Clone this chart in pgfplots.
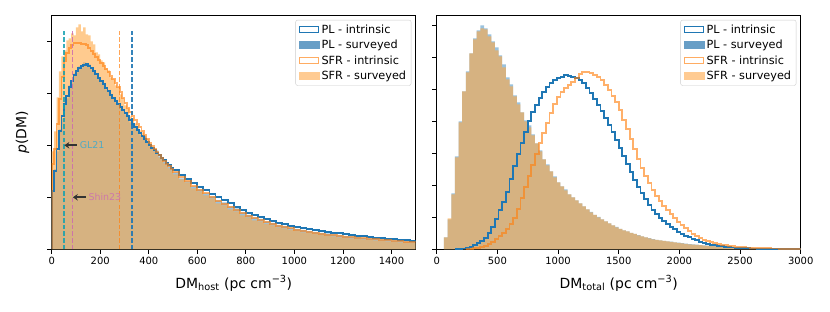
\documentclass[border=0pt]{standalone}
\usepackage{pgfplots}
\pgfplotsset{compat=1.18}
\usepackage{fontspec}
\setmainfont{DejaVu Sans}
\usetikzlibrary{arrows.meta}
\definecolor{tabblue}{HTML}{1F77B4}
\definecolor{taborange}{HTML}{FF7F0E}
\definecolor{fillorange}{RGB}{255,168,68}
\definecolor{lineorange}{RGB}{255,172,98}
\definecolor{legblue}{RGB}{104,158,198}
\definecolor{legorange}{RGB}{255,203,146}
\definecolor{tabcyan}{HTML}{17BECF}
\definecolor{tabpink}{HTML}{E377C2}
\definecolor{gltext}{RGB}{80,170,195}
\definecolor{shintext}{RGB}{205,120,170}
\pgfplotsset{
  histax/.style={
    width=364bp, height=234.3bp, scale only axis,
    ymin=0, ymax=234.3,
    tick align=outside, major tick length=4.5bp,
    xtick pos=left, ytick pos=left,
    yticklabels={},
    axis line style={line width=0.8bp},
    every tick/.style={black, line width=0.8bp},
    tick label style={font=\fontsize{10}{11}\selectfont},
    /pgf/number format/assume math mode=true,
    /pgf/number format/1000 sep={},
    x label style={at={(axis description cs:0.5,-0.145)},anchor=center,font=\fontsize{14}{16}\selectfont},
    legend style={at={(0.988,0.979)},anchor=north east, draw=black!20, rounded corners=2bp,
      font=\fontsize{11.3}{13}\selectfont, row sep=1.4bp, inner xsep=3bp, inner ysep=2.5bp, cells={anchor=west}},
  },
  legpli/.style={legend image code/.code={\draw[sharp corners, tabblue, line width=1.3bp, fill=white] (0.6bp,-2.8bp) rectangle (19.9bp,2.8bp);}},
  legpls/.style={legend image code/.code={\fill[sharp corners, legblue] (0bp,-3.4bp) rectangle (20.5bp,3.4bp);}},
  legsfri/.style={legend image code/.code={\draw[sharp corners, lineorange, line width=1.3bp, fill=white] (0.6bp,-2.8bp) rectangle (19.9bp,2.8bp);}},
  legsfrs/.style={legend image code/.code={\fill[sharp corners, legorange] (0bp,-3.4bp) rectangle (20.5bp,3.4bp);}},
  pli/.style={const plot mark left, no marks, tabblue, line width=1.8bp},
  sfri/.style={const plot mark left, no marks, taborange, draw opacity=0.62, line width=1.8bp},
  pls/.style={const plot mark left, no marks, draw=none, fill=tabblue, fill opacity=0.45},
  sfrs/.style={const plot mark left, no marks, draw=none, fill=fillorange, fill opacity=0.6},
  vline/.style={dash pattern=on 4.5bp off 2.2bp, line width=1.6bp, forget plot},
}
\begin{document}
\begin{tikzpicture}
\path[use as bounding box] (-51.7bp,-62.7bp) rectangle (778.3bp,249.3bp);
\begin{axis}[histax, xmin=0, xmax=1500, xtick={0,200,...,1400},
  ytick={0,52,104,156,208},
  xlabel={DM\textsubscript{host} (pc cm\textsuperscript{−3})},
  ylabel={\textit{p}(DM)},
  y label style={at={(axis description cs:-0.08,0.5)},anchor=center,font=\fontsize{14}{16}\selectfont}]
\addlegendimage{legpli}
\addlegendentry{PL - intrinsic}
\addlegendimage{legpls}
\addlegendentry{PL - surveyed}
\addlegendimage{legsfri}
\addlegendentry{SFR - intrinsic}
\addlegendimage{legsfrs}
\addlegendentry{SFR - surveyed}
% PL surveyed
\addplot[pls, forget plot] table {
0 58
10 80
20 98
30 120
40 131
50 147
60 151
70 164
80 167
90 176
100 177
110 183
120 182
130 187
140 184
150 185
160 180
170 179
180 174
190 172
200 167
210 166
220 160
230 159
240 153
250 152
260 147
270 146
280 141
290 140
300 135
310 134
320 127
330 126
340 121
350 120
360 115
370 114
380 113
390 108
400 103
410 102
420 100
430 99
440 93
450 92
460 88
470 87
480 83
490 82
500 77
525 71
550 68
575 63
600 60
625 56
650 53
675 49
700 47
725 43
750 41
775 37
800 34.5
825 32
850 30.5
875 28
900 26.5
925 24.5
950 23.5
975 21.5
1000 20.5
1025 19.5
1050 18.5
1075 17.5
1100 16.5
1125 16
1150 15
1175 14.5
1200 13.5
1225 13
1250 12.5
1275 11.5
1300 11
1325 10.5
1350 10
1375 9.5
1400 9
1425 8.5
1450 8
1475 7.5
1500 7.5
} \closedcycle;
% SFR surveyed
\addplot[sfrs, forget plot] table {
0 98
10 118
20 152
30 178
40 193
50 199
60 209
70 211
80 216
90 214
100 222
110 225
120 218
130 222
140 215
150 214
160 208
170 205
180 197
190 195
200 189
210 187
220 181
230 179
240 172
250 170
260 164
270 162
280 155
290 151
300 144
310 141
320 133
330 131
340 126
350 124
360 119
370 117
380 111
390 110
400 104
410 102
420 98
430 96
440 92
450 90
460 86
470 84
480 81
490 79
500 75
525 70
550 67
575 61
600 58
625 54
650 51
675 46
700 44
725 40
750 38
775 34
800 32
825 29
850 28
875 25.5
900 24
925 22
950 21
975 19.5
1000 18.5
1025 17
1050 16.5
1075 15.5
1100 14.5
1125 13.5
1150 13
1175 12
1200 11.5
1225 11
1250 10.5
1275 10
1300 9.5
1325 9
1350 8.5
1375 8
1400 7.5
1425 7
1450 7
1475 6.5
1500 6.5
} \closedcycle;
% PL intrinsic
\addplot[pli, forget plot] table {
0 0
0 58
10 78
20 100
30 118
40 133
50 145
60 153
70 162
80 168
90 174
100 178
110 181
120 183
130 184
140 185
150 183
160 181
170 178
180 175
190 171
200 168
210 165
220 161
230 158
240 154
250 151
260 148
270 145
280 142
290 139
300 136
310 133
320 129
330 125
340 122
350 119
360 116
370 113
380 110
390 107
400 104
410 101
420 99
430 96
440 94
450 91
460 89
470 86
480 84
490 81
500 79
525 74
550 70
575 66
600 62
625 59
650 55
675 52
700 49
725 46
750 42
775 39
800 36
825 34
850 32
875 30
900 28
925 26.5
950 25
975 23.5
1000 22
1025 21
1050 20
1075 19
1100 18
1125 17.5
1150 16.5
1175 16
1200 15
1225 14.5
1250 13.5
1275 13
1300 12
1325 11.5
1350 11
1375 10.5
1400 10
1425 9.5
1450 9
1475 8.5
1500 8
1525 8
};
% SFR intrinsic
\addplot[sfri, forget plot] table {
0 0
0 85
10 100
20 125
30 150
40 172
50 188
60 196
70 201
80 204
90 206
100 206
110 206
120 205
130 205
140 204
150 201
160 198
170 195
180 192
190 189
200 186
210 183
220 180
230 177
240 173
250 170
260 166
270 162
280 157
290 151
300 146
310 141
320 137
330 133
340 129
350 125
360 122
370 118
380 114
390 110
400 106
410 103
420 100
430 97
440 94
450 91
460 88
470 85
480 83
490 80
500 77
525 72
550 68
575 63
600 59
625 56
650 52
675 48
700 45
725 42
750 39
775 36
800 33
825 31
850 29
875 27
900 25
925 23.5
950 22
975 21
1000 19.5
1025 18.5
1050 17.5
1075 16.5
1100 15.5
1125 14.5
1150 14
1175 13
1200 12.5
1225 12
1250 11.5
1275 11
1300 10.5
1325 10
1350 9.5
1375 9
1400 8.5
1425 8
1450 7.5
1475 7
1500 7
1525 7
};
% vertical reference lines
\addplot[vline, tabcyan!85!black, draw opacity=0.85] coordinates {(50,0) (50,218)};
\addplot[vline, tabpink!90!black, draw opacity=0.85] coordinates {(85,0) (85,218)};
\addplot[vline, taborange, draw opacity=0.7] coordinates {(279,0) (279,218)};
\addplot[vline, tabblue, draw opacity=0.9] coordinates {(332,0) (332,218)};
\draw[-{Stealth[length=5bp,width=6.5bp]}, black!80, line width=2.2bp] (axis cs:104,104) -- (axis cs:52,104);
\node[anchor=west, text=gltext, font=\fontsize{9.5}{10}\selectfont, inner sep=1bp] at (axis cs:111,104) {GL21};
\draw[-{Stealth[length=5bp,width=6.5bp]}, black!80, line width=2.2bp] (axis cs:140,52) -- (axis cs:87,52);
\node[anchor=west, text=shintext, font=\fontsize{9.5}{10}\selectfont, inner sep=1bp] at (axis cs:147,52) {Shin23};
\end{axis}

\begin{axis}[histax, at={(385bp,0)}, xmin=0, xmax=3000, xtick={0,500,...,3000},
  ytick={0,32,...,224},
  xlabel={DM\textsubscript{total} (pc cm\textsuperscript{−3})}]
\addlegendimage{legpli}
\addlegendentry{PL - intrinsic}
\addlegendimage{legpls}
\addlegendentry{PL - surveyed}
\addlegendimage{legsfri}
\addlegendentry{SFR - intrinsic}
\addlegendimage{legsfrs}
\addlegendentry{SFR - surveyed}
% PL surveyed
\addplot[pls, forget plot] table {
60 12
90 30
120 56
150 93
180 128
210 158
240 178
270 196
300 211
330 219
360 224
390 221
420 215
450 208
480 202
510 194
540 185
570 172
600 165
630 154
660 147
690 137
720 129
750 124
780 115
810 106
840 99
870 90
900 85
930 78
960 73
990 67
1020 63
1050 60
1080 55
1110 52
1140 49
1170 46
1200 43
1230 40
1260 37.5
1290 34.5
1320 32.5
1350 30
1380 28
1410 26
1440 24
1470 22.5
1500 20.5
1530 19
1560 18
1590 16.5
1620 15.5
1650 14.2
1680 13
1710 12
1740 11.2
1770 10.2
1800 9.5
1830 9
1860 8.5
1890 8
1920 7.6
1950 7
1980 6.6
2010 6.1
2040 5.6
2070 5.2
2100 4.9
2130 4.6
2160 4.3
2190 3.9
2220 3.6
2250 3.3
2280 3.1
2310 2.9
2340 2.6
2370 2.4
2400 2.2
2430 2.1
2460 1.9
2490 1.8
2520 1.7
2550 1.5
2580 1.4
2610 1.3
2640 1.2
2670 1.1
2700 1
2730 1
2760 0.9
2790 0.8
2820 0.7
2850 0.7
2880 0.6
2910 0.6
2940 0.5
2970 0.5
3000 0.5
} \closedcycle;
% SFR surveyed
\addplot[sfrs, forget plot] table {
60 12
90 31
120 55
150 92
180 127
210 158
240 177
270 196
300 210
330 218
360 221
390 220
420 213
450 207
480 199
510 193
540 182
570 170
600 163
630 153
660 145
690 137
720 128
750 122
780 114
810 106
840 98
870 90
900 84
930 78
960 72
990 67
1020 63
1050 59
1080 55
1110 52
1140 49
1170 46
1200 43
1230 40
1260 37
1290 34.5
1320 32
1350 30
1380 28
1410 26
1440 24
1470 22
1500 20.5
1530 19
1560 18
1590 16.5
1620 15.5
1650 14
1680 13
1710 12
1740 11
1770 10
1800 9.5
1830 9
1860 8.5
1890 8
1920 7.5
1950 7
1980 6.5
2010 6
2040 5.5
2070 5
2100 4.7
2130 4.4
2160 4.1
2190 3.8
2220 3.5
2250 3.2
2280 3
2310 2.8
2340 2.6
2370 2.4
2400 2.2
2430 2
2460 1.9
2490 1.8
2520 1.6
2550 1.5
2580 1.4
2610 1.3
2640 1.2
2670 1.1
2700 1
2730 0.9
2760 0.9
2790 0.8
2820 0.7
2850 0.7
2880 0.6
2910 0.6
2940 0.5
2970 0.5
3000 0.5
} \closedcycle;
% PL intrinsic
\addplot[pli, forget plot] table {
150 0
180 0.3
210 0.8
240 1.5
270 2.5
300 4
330 6
360 8
390 11
420 16
450 22
480 30
510 39
540 47
570 57
600 70
630 83
660 95
690 106
720 117
750 128
780 137
810 144
840 151
870 157
900 162
930 166
960 169
990 171
1020 172
1050 174
1080 173
1110 172
1140 171
1170 169
1200 166
1230 161
1260 156
1290 150
1320 144
1350 138
1380 131
1410 124
1440 117
1470 109
1500 101
1530 93
1560 85
1590 77
1620 69
1650 62
1680 56
1710 50
1740 44
1770 39
1800 35
1830 31
1860 28
1890 25
1920 22
1950 20
1980 17
2010 15
2040 13.5
2070 12
2100 10
2130 9
2160 7.5
2190 6.5
2220 5.5
2250 4.7
2280 4
2310 3.4
2340 3
2370 2.6
2400 2.2
2430 1.9
2460 1.6
2490 1.4
2520 1.2
2550 1
2580 0.9
2610 0.8
2640 0.7
2670 0.6
2700 0.5
2730 0.5
2760 0.4
2790 0.4
2820 0.3
2850 0.3
2880 0.3
2910 0.2
2940 0.2
2970 0.2
3000 0.2
};
% SFR intrinsic
\addplot[sfri, forget plot] table {
240 0
270 0.5
300 1
330 1.5
360 2.2
390 3.5
420 5
450 7
480 10
510 13
540 16
570 20
600 25
630 31
660 40
690 51
720 62
750 73
780 84
810 95
840 106
870 116
900 126
930 136
960 145
990 152
1020 157
1050 161
1080 164
1110 167
1140 171
1170 175
1200 177
1230 177
1260 176
1290 174
1320 172
1350 169
1380 164
1410 159
1440 153
1470 147
1500 139
1530 129
1560 120
1590 110
1620 100
1650 90
1680 81
1710 73
1740 66
1770 59
1800 53
1830 48
1860 43
1890 39
1920 35
1950 31
1980 27
2010 24
2040 21
2070 18
2100 15.5
2130 13
2160 11
2190 9.5
2220 8
2250 7
2280 6
2310 5.2
2340 4.6
2370 4
2400 3.5
2430 3
2460 2.7
2490 2.4
2520 2.1
2550 1.9
2580 1.7
2610 1.5
2640 1.3
2670 1.2
2700 1.1
2730 1
2760 0.9
2790 0.8
2820 0.7
2850 0.6
2880 0.6
2910 0.5
2940 0.5
2970 0.5
3000 0.5
};
\end{axis}
\end{tikzpicture}
\end{document}
